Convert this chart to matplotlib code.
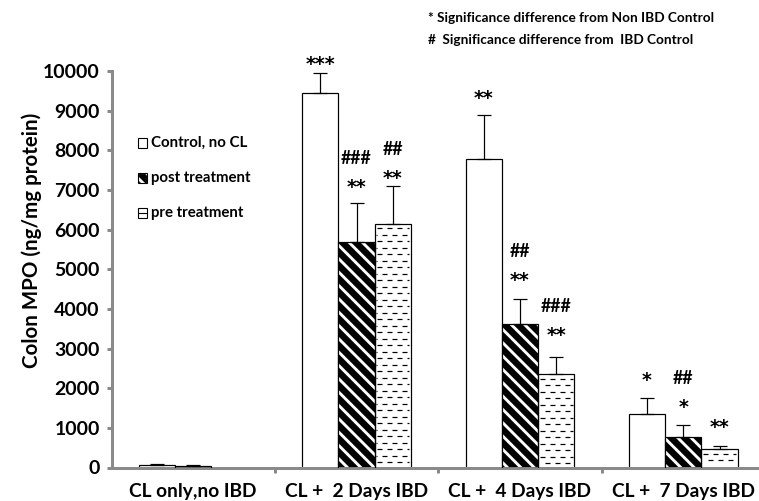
import matplotlib
matplotlib.use("Agg")
import numpy as np
import matplotlib.pyplot as plt
from matplotlib.patches import Rectangle
from matplotlib.collections import LineCollection

plt.rcParams['font.family'] = ['Lato', 'DejaVu Sans']
plt.rcParams['font.weight'] = 'bold'
plt.rcParams['hatch.linewidth'] = 2.6

groups = ["CL only,no IBD", "CL +  2 Days IBD", "CL +  4 Days IBD", "CL +  7 Days IBD"]
series = ["Control, no CL", "post treatment", "pre treatment"]

control = [70, 9440, 7780, 1360]
control_err = [20, 500, 1120, 400]
post = [50, 5680, 3630, 770]
post_err = [15, 980, 630, 300]
pre = [0, 6150, 2350, 460]
pre_err = [0, 950, 440, 85]

# significance marks above each bar (* vs non IBD control, # vs IBD control)
control_marks = ["", "***", "**", "*"]
post_marks = ["", "**\n###", "**\n##", "*\n##"]
pre_marks = ["", "**\n##", "**\n###", "**"]

DPI = 80
W, H = 759, 501
fig = plt.figure(figsize=(W / DPI, H / DPI), dpi=DPI)
# axes box in pixels: left, right, top, bottom
L, R, T, B = 111.5, 765.0, 71.0, 467.5
ax = fig.add_axes([L / W, 1 - B / H, (R - L) / W, (B - T) / H])

x = np.arange(len(groups))
bw = 0.222
px_x = 4.0 / (R - L)
px_y = 10000.0 / (B - T)

ekw = dict(fmt='none', ecolor='black', elinewidth=1.1, capsize=6.5, capthick=1.1, zorder=4)


def errbars(xs, vals, errs):
    xs, vals, errs = np.asarray(xs), np.asarray(vals), np.asarray(errs)
    keep = vals > 0
    ax.errorbar(xs[keep], vals[keep], yerr=[np.zeros(keep.sum()), errs[keep]], **ekw)


# control bars
ax.bar(x - bw, control, bw, color='white', edgecolor='black', linewidth=1.1, zorder=2)
errbars(x - bw, control, control_err)

# post treatment: black with white diagonal stripes
ax.bar(x, post, bw, color='black', edgecolor='white', hatch='\\\\', linewidth=0, zorder=2)
ax.bar(x, post, bw, color='none', edgecolor='black', linewidth=1.1, zorder=3)
errbars(x, post, post_err)

# pre treatment: white with staggered short dashes
ax.bar(x + bw, pre, bw, color='white', edgecolor='black', linewidth=1.1, zorder=2)
errbars(x + bw, pre, pre_err)
segs = []
for xi, h in zip(x + bw, pre):
    x0, x1 = xi - bw / 2, xi + bw / 2
    y = h - 4.5 * px_y
    k = 0
    while y > 3 * px_y:
        s = x0 + ((k % 2) * 5 - 8) * px_x
        while s < x1:
            a, b = max(s, x0 + 1.5 * px_x), min(s + 5 * px_x, x1 - 1.5 * px_x)
            if b > a:
                segs.append([(a, y), (b, y)])
            s += 10 * px_x
        y -= 6.5 * px_y
        k += 1
ax.add_collection(LineCollection(segs, colors='black', linewidths=1.1, zorder=2.5))

# significance labels
tops = [np.array(control) + control_err, np.array(post) + post_err, np.array(pre) + pre_err]
offs = [[0, 13, 20, 21], [0, 20, 22, 22], [0, 11, 25, 22]]
for j, marks in enumerate([control_marks, post_marks, pre_marks]):
    for i, m in enumerate(marks):
        if not m:
            continue
        for n, s in enumerate(m.split("\n")):
            dy = offs[j][i] + n * 25
            if s.startswith('#'):
                ax.annotate(s, (x[i] + (j - 1) * bw, tops[j][i]), xytext=(0, dy * 72 / DPI),
                            textcoords='offset points', ha='center', va='center',
                            fontsize=16, fontweight='bold', annotation_clip=False)
            else:
                ax.annotate(s, (x[i] + (j - 1) * bw, tops[j][i]),
                            xytext=(0, (dy - 4) * 72 / DPI),
                            textcoords='offset points', ha='center', va='center',
                            fontsize=17, fontweight='bold', family='DejaVu Sans',
                            annotation_clip=False)

ax.set_xlim(-0.5, 3.5)
ax.set_ylim(0, 10000)
ax.set_yticks(np.arange(0, 10001, 1000))
ax.set_xticks([0.5, 1.5, 2.5])
ax.set_xticklabels([])
ax.set_xticks(x, minor=True)
ax.set_xticklabels(groups, minor=True)

grey = '#8a8a8a'
for side in ['top', 'right']:
    ax.spines[side].set_visible(False)
for side in ['left', 'bottom']:
    ax.spines[side].set_color(grey)
    ax.spines[side].set_linewidth(2.7)
ax.tick_params(axis='both', which='major', color=grey, width=2.7, length=4.5, direction='out')
ax.tick_params(axis='y', labelsize=17.5, pad=6)
ax.tick_params(axis='x', which='minor', length=0, labelsize=17.2, pad=14)
for lab in ax.get_yticklabels() + ax.get_xticklabels(minor=True):
    lab.set_fontweight('bold')

ax.set_ylabel("Colon MPO (ng/mg protein)", fontsize=18.5, fontweight='bold')
ax.yaxis.set_label_coords(-0.106, 0.574)


def fpx(px, py):
    return px / W, 1 - py / H


# legend drawn by hand
icons = [dict(fc='white', ec='black', hatch=None),
         dict(fc='black', ec='white', hatch='\\\\'),
         dict(fc='white', ec='black', hatch=None)]
for k, (name, ic) in enumerate(zip(series, icons)):
    cy = 143 + k * 35
    fig.add_artist(Rectangle(fpx(137.5, cy + 4.5), 9 / W, 9 / H, transform=fig.transFigure,
                             facecolor=ic['fc'], edgecolor=ic['ec'], hatch=ic['hatch'],
                             linewidth=1.0))
    if k == 1:
        fig.add_artist(Rectangle(fpx(137.5, cy + 4.5), 9 / W, 9 / H, transform=fig.transFigure,
                                 facecolor='none', edgecolor='black', linewidth=1.0))
    if k == 2:
        fig.add_artist(plt.Line2D([138.5 / W, 145.5 / W], [1 - cy / H] * 2,
                                  transform=fig.transFigure, color='black', linewidth=1.0))
    fig.text(*fpx(151, cy), name, fontsize=13.5, fontweight='bold', va='center', ha='left')

fig.text(*fpx(428, 18), "* Significance difference from Non IBD Control",
         fontsize=12.3, fontweight='bold', va='center', ha='left')
fig.text(*fpx(428, 40), "#  Significance difference from  IBD Control",
         fontsize=12.3, fontweight='bold', va='center', ha='left')

fig.savefig("out.png", dpi=DPI)
